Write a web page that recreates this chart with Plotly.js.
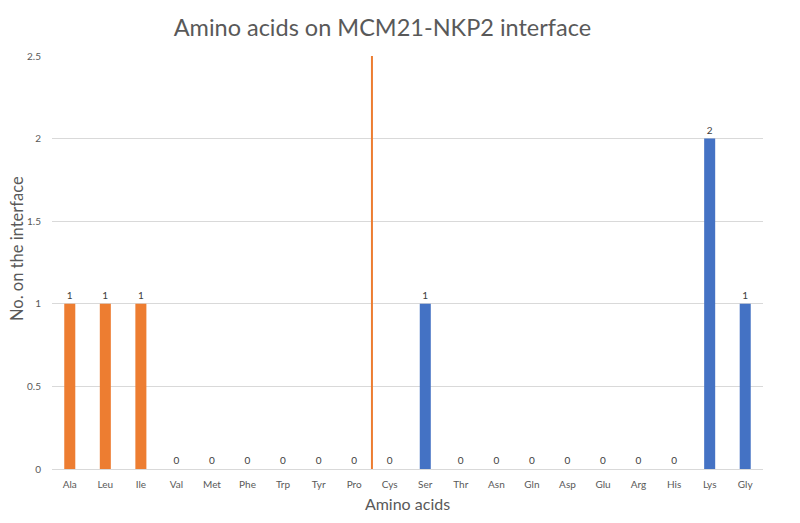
<!DOCTYPE html>
<html>
<head>
<meta charset="utf-8">
<script src="https://cdn.plot.ly/plotly-3.0.1.min.js"></script>
<style>html,body{margin:0;padding:0;background:#fff;}#chart{width:800px;height:523px;}</style>
</head>
<body>
<div id="chart"></div>
<script>
const categories = ['Ala','Leu','Ile','Val','Met','Phe','Trp','Tyr','Pro','Cys','Ser','Thr','Asn','Gln','Asp','Glu','Arg','His','Lys','Gly'];
const counts = [1,1,1,0,0,0,0,0,0,0,1,0,0,0,0,0,0,0,2,1];
const hydrophobic = ['Ala','Leu','Ile','Val','Met','Phe','Trp','Tyr','Pro'];
const separatorAfter = 'Pro';
const yTicks = [0,0.5,1,1.5,2,2.5];
const yMax = 2.5;

const orange = '#ED7D31', blue = '#4472C4';
const colors = categories.map(c => hydrophobic.includes(c) ? orange : blue);
const sepIdx = categories.indexOf(separatorAfter) + 0.5;
const FONT = 'Lato, "Open Sans", sans-serif';

const trace = {
  type: 'bar', x: categories, y: counts,
  marker: {color: colors},
  text: counts.map(String), textposition: 'outside', cliponaxis: false,
  textfont: {family: FONT, size: 10, color: '#404040'},
  hoverinfo: 'none'
};

const layout = {
  width: 800, height: 523,
  margin: {l: 52, r: 37, t: 56, b: 54},
  paper_bgcolor: '#fff', plot_bgcolor: '#fff',
  bargap: 0.69,
  showlegend: false,
  font: {family: FONT, color: '#595959'},
  title: {text: 'Amino acids on MCM21-NKP2 interface', x: 0.478, xanchor: 'center', y: 0.947, yanchor: 'middle',
          font: {family: FONT, size: 23.5, color: '#595959'}},
  xaxis: {type: 'category', showgrid: false, zeroline: false, showline: true, linecolor: '#D9D9D9', linewidth: 1,
          ticks: 'outside', ticklen: 6, tickcolor: 'rgba(0,0,0,0)', tickfont: {size: 10, color: '#595959'},
          title: {text: 'Amino acids', standoff: 9, font: {size: 16, color: '#595959'}}},
  yaxis: {range: [0, yMax], tickvals: yTicks, ticktext: yTicks.map(String), showgrid: true, gridcolor: '#D9D9D9',
          zeroline: false, showline: false, ticks: 'outside', ticklen: 8, tickcolor: 'rgba(0,0,0,0)',
          tickfont: {size: 10, color: '#595959'}},
  annotations: [{text: 'No. on the interface', xref: 'paper', yref: 'paper', x: -0.049, y: 0.533,
                 xanchor: 'center', yanchor: 'middle', textangle: -90, showarrow: false,
                 font: {family: FONT, size: 16.5, color: '#595959'}}],
  shapes: [{type: 'line', xref: 'x', yref: 'y', x0: sepIdx, x1: sepIdx, y0: 0, y1: yMax,
            line: {color: orange, width: 2}}]
};

Plotly.newPlot('chart', [trace], layout, {displayModeBar: false, staticPlot: true});
</script>
</body>
</html>
